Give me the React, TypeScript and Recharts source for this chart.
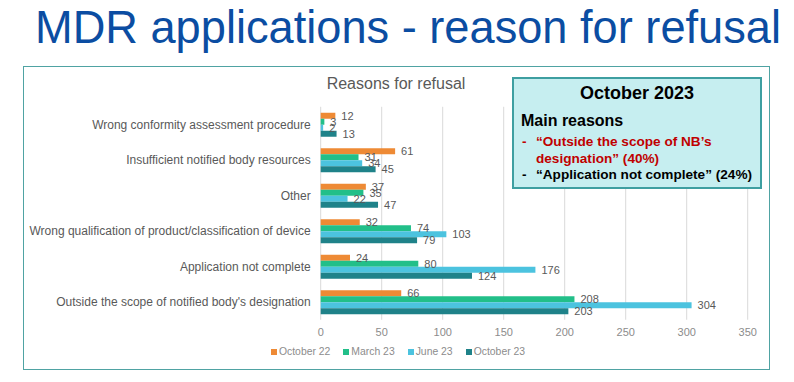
import { BarChart, Bar, XAxis, YAxis, CartesianGrid, LabelList, Legend } from 'recharts';

const categories = [
  'Wrong conformity assessment procedure',
  'Insufficient notified body resources',
  'Other',
  'Wrong qualification of product/classification of device',
  'Application not complete',
  "Outside the scope of notified body's designation",
];

const oct22 = [12, 61, 37, 32, 24, 66];
const mar23 = [3, 31, 35, 74, 80, 208];
const jun23 = [2, 34, 22, 103, 176, 304];
const oct23 = [13, 45, 47, 79, 124, 203];

const xTicks = [0, 50, 100, 150, 200, 250, 300, 350];

const series = [
  { key: 'oct22', name: 'October 22', color: '#EE8A35' },
  { key: 'mar23', name: 'March 23', color: '#22BF89' },
  { key: 'jun23', name: 'June 23', color: '#4CC3DF' },
  { key: 'oct23', name: 'October 23', color: '#1F8289' },
];

const data = categories.map((reason, i) => ({
  reason,
  oct22: oct22[i],
  mar23: mar23[i],
  jun23: jun23[i],
  oct23: oct23[i],
}));

const font = '"Liberation Sans", Arial, sans-serif';

// single-line category labels, right aligned against the plot
const CategoryTick = ({ x, y, payload }: any) => (
  <text x={x} y={y} dy={4} textAnchor="end" fill="#595959" fontSize={12} fontFamily={font}>
    {payload.value}
  </text>
);

const LegendRow = () => (
  <div style={{ display: 'flex', justifyContent: 'center', fontSize: 10.4, fontFamily: font, color: '#8C8C8C' }}>
    {series.map((s, i) => (
      <div key={s.key} style={{ display: 'flex', alignItems: 'center', marginRight: i < series.length - 1 ? 13 : 0 }}>
        <span style={{ width: 6, height: 6, background: s.color, marginRight: 2, display: 'inline-block' }} />
        <span>{s.name}</span>
      </div>
    ))}
  </div>
);

const App = () => {
  return (
    <div style={{ position: 'absolute', left: 0, top: 0, width: 794, height: 382, background: '#fff', fontFamily: font }}>
      <svg width={794} height={60} style={{ position: 'absolute', left: 0, top: 0 }}>
        <text x={35} y={42.5} fontSize={46} fill="#0B4DA2" fontFamily={font} textLength={746} lengthAdjust="spacingAndGlyphs">
          MDR applications - reason for refusal
        </text>
      </svg>

      <div style={{ position: 'absolute', left: 23, top: 66, width: 745, height: 302, border: '1.5px solid #4FA3A3' }} />

      <div style={{ position: 'absolute', left: 23, width: 746, top: 75, textAlign: 'center', fontSize: 16, color: '#595959' }}>
        Reasons for refusal
      </div>

      <div style={{ position: 'absolute', left: 0, top: 0 }}>
        <BarChart
          width={794}
          height={382}
          data={data}
          layout="vertical"
          barSize={6}
          barGap={0}
          margin={{ top: 106.75, right: 46.3, bottom: 32.25, left: 20.7 }}
        >
          <CartesianGrid horizontal={false} stroke="#D9D9D9" />
          <XAxis
            type="number"
            domain={[0, 350]}
            ticks={xTicks}
            axisLine={false}
            tickLine={false}
            tick={{ fill: '#8C8C8C', fontSize: 11, fontFamily: font }}
          />
          <YAxis
            type="category"
            dataKey="reason"
            width={300}
            axisLine={false}
            tickLine={false}
            tickSize={0}
            tickMargin={10}
            interval={0}
            tick={<CategoryTick />}
          />
          <Legend
            verticalAlign="middle"
            align="center"
            layout="horizontal"
            wrapperStyle={{ top: 346, left: 23, width: 750 }}
            content={() => <LegendRow />}
          />
          {series.map(s => (
            <Bar key={s.key} dataKey={s.key} name={s.name} fill={s.color} isAnimationActive={false}>
              <LabelList dataKey={s.key} position="right" offset={6} fill="#595959" fontSize={11} fontFamily={font} />
            </Bar>
          ))}
        </BarChart>
      </div>

      <div
        style={{
          position: 'absolute',
          left: 512,
          top: 77,
          width: 246,
          height: 108,
          background: '#C6EEF0',
          border: '2px solid #3E9FA1',
          color: '#000',
          fontFamily: font,
        }}
      >
        <div style={{ position: 'absolute', left: 0, width: 246, top: 4, textAlign: 'center', fontWeight: 'bold', fontSize: 18 }}>
          October 2023
        </div>
        <div style={{ position: 'absolute', left: 7, top: 33, fontWeight: 'bold', fontSize: 16 }}>Main reasons</div>
        <div style={{ position: 'absolute', left: 8, top: 55, fontWeight: 'bold', fontSize: 13.6, color: '#C00000', lineHeight: '16.7px' }}>
          <div style={{ display: 'flex' }}>
            <span style={{ width: 14 }}>-</span>
            <span>“Outside the scope of NB’s<br />designation” (40%)</span>
          </div>
          <div style={{ display: 'flex', color: '#000' }}>
            <span style={{ width: 14 }}>-</span>
            <span>“Application not complete” (24%)</span>
          </div>
        </div>
      </div>
    </div>
  );
};

export default App;
